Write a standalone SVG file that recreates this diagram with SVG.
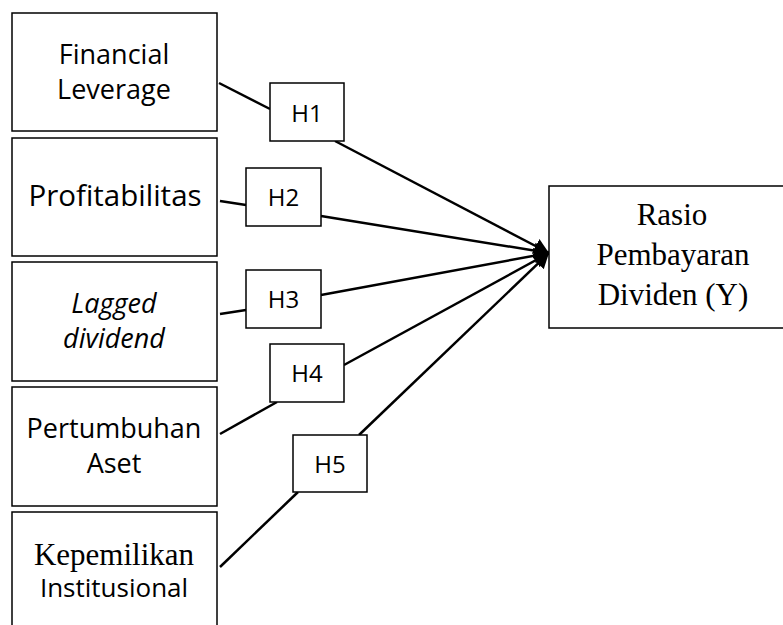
<svg xmlns="http://www.w3.org/2000/svg" width="783" height="625" viewBox="0 0 783 625">
<defs>
<style>
.box{fill:#fff;stroke:#000;stroke-width:1.5}
.t{font-family:"Open Sans","DejaVu Sans",sans-serif;font-size:27px;fill:#000;text-anchor:middle}
.h{font-family:"Open Sans","DejaVu Sans",sans-serif;font-size:24px;fill:#000;text-anchor:middle}
.s{font-family:"Liberation Serif","Times New Roman",serif;font-size:31px;fill:#000;text-anchor:middle}
.c{stroke:#000;stroke-width:2.5;fill:none}
</style>
<marker id="arr" markerUnits="userSpaceOnUse" markerWidth="18" markerHeight="20" refX="15" refY="10" orient="auto">
<path d="M0,2 L15,10 L0,18 z" fill="#000"/>
</marker>
</defs>
<rect width="783" height="625" fill="#fff"/>
<g id="connectors">
<line class="c" x1="219" y1="83" x2="270" y2="109"/>
<line class="c" x1="335" y1="141" x2="549" y2="253" marker-end="url(#arr)"/>
<line class="c" x1="220" y1="201" x2="246" y2="205"/>
<line class="c" x1="321" y1="216" x2="549" y2="253" marker-end="url(#arr)"/>
<line class="c" x1="220" y1="314" x2="246" y2="310"/>
<line class="c" x1="321" y1="295" x2="549" y2="253" marker-end="url(#arr)"/>
<line class="c" x1="220" y1="434" x2="277" y2="402"/>
<line class="c" x1="344" y1="365" x2="549" y2="253" marker-end="url(#arr)"/>
<line class="c" x1="220" y1="567" x2="298" y2="492"/>
<line class="c" x1="359" y1="435" x2="549" y2="253" marker-end="url(#arr)"/>
</g>
<g id="financial-leverage">
<rect class="box" x="12" y="13" width="205" height="118"/>
<text class="t" x="114" y="64">Financial</text>
<text class="t" x="114" y="99">Leverage</text>
</g>
<g id="profitabilitas">
<rect class="box" x="12" y="138" width="205" height="118"/>
<text class="t" x="115" y="206" style="font-size:29.5px">Profitabilitas</text>
</g>
<g id="lagged-dividend">
<rect class="box" x="12" y="262" width="205" height="119"/>
<text class="t" x="114" y="313" font-style="italic">Lagged</text>
<text class="t" x="114" y="348" font-style="italic">dividend</text>
</g>
<g id="pertumbuhan-aset">
<rect class="box" x="12" y="387" width="205" height="119"/>
<text class="t" x="114" y="438">Pertumbuhan</text>
<text class="t" x="114" y="473">Aset</text>
</g>
<g id="kepemilikan-institusional">
<rect class="box" x="12" y="512" width="205" height="130"/>
<text class="s" x="114" y="565">Kepemilikan</text>
<text class="t" x="114" y="597" style="font-size:26px">Institusional</text>
</g>
<g id="h1">
<rect class="box" x="270" y="83" width="74" height="58"/>
<text class="h" x="307" y="122">H1</text>
</g>
<g id="h2">
<rect class="box" x="246" y="168" width="75" height="58"/>
<text class="h" x="283.5" y="206">H2</text>
</g>
<g id="h3">
<rect class="box" x="246" y="270" width="75" height="58"/>
<text class="h" x="283.5" y="308">H3</text>
</g>
<g id="h4">
<rect class="box" x="270" y="344" width="74" height="58"/>
<text class="h" x="307" y="382">H4</text>
</g>
<g id="h5">
<rect class="box" x="293" y="435" width="74" height="57"/>
<text class="h" x="330" y="473">H5</text>
</g>
<g id="rasio-pembayaran-dividen">
<rect class="box" x="549" y="186" width="250" height="142"/>
<text class="s" x="672" y="225">Rasio</text>
<text class="s" x="673" y="265">Pembayaran</text>
<text class="s" x="673" y="305">Dividen (Y)</text>
</g>
</svg>
